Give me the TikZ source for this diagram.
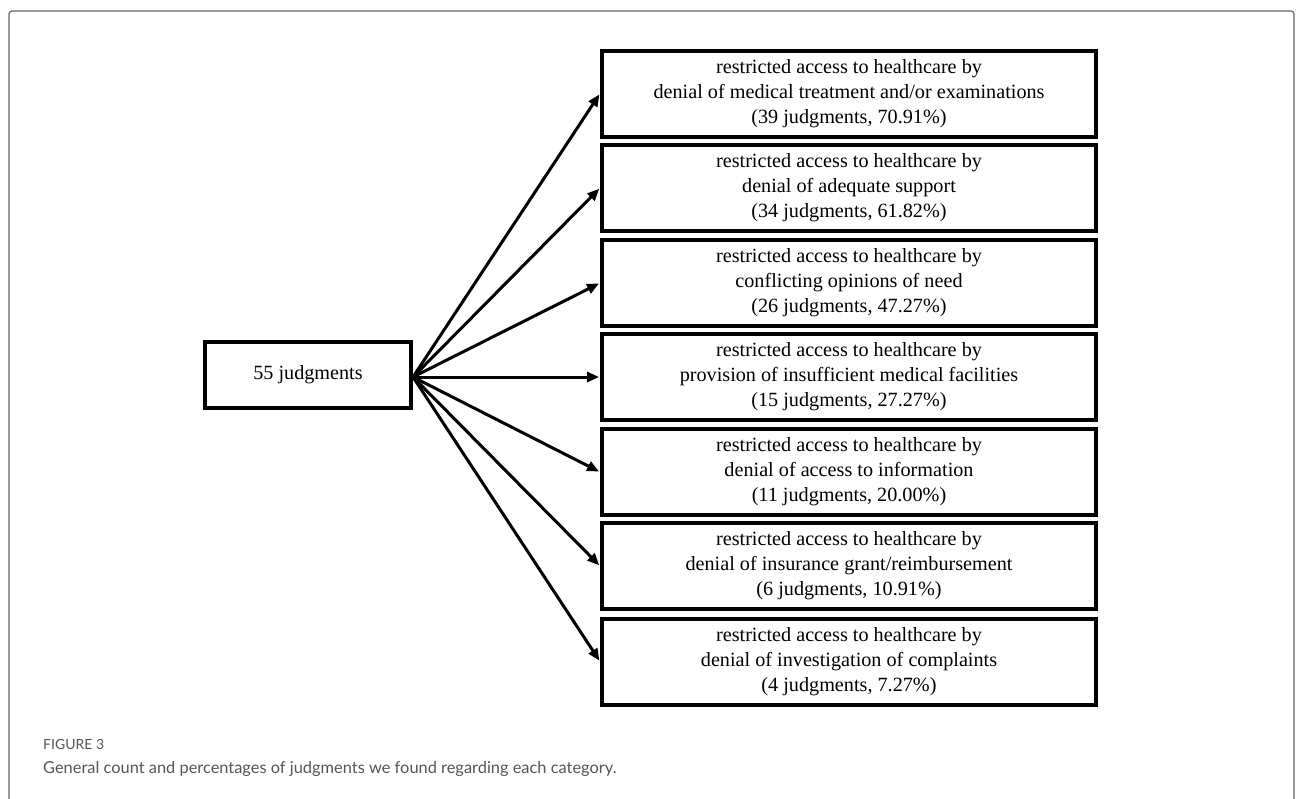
\documentclass[tikz,border=0pt]{standalone}
\usepackage{fontspec}
\setmainfont{Liberation Serif}
\newfontfamily\capfont{Lato}
\usetikzlibrary{arrows.meta}
\definecolor{framegray}{HTML}{666666}
\definecolor{capgray}{HTML}{555555}
\tikzset{
  catbox/.style={draw=black, line width=4pt, minimum width=494pt, minimum height=86pt,
    align=center, inner sep=0pt, font=\fontsize{20.2}{25}\selectfont},
  srcbox/.style={draw=black, line width=4pt, minimum width=206pt, minimum height=66pt,
    inner sep=0pt, font=\fontsize{20.2}{25}\selectfont},
  arr/.style={line width=3pt, -{Triangle[length=12pt,width=10pt]}, shorten >=1pt}
}
\begin{document}
\begin{tikzpicture}[x=1pt,y=-1pt]
\useasboundingbox (0,0) rectangle (1296,798);
\draw[framegray, line width=1.2pt, rounded corners=3pt] (9,805) -- (9,11) -- (1294,11) -- (1294,805);

\node[srcbox] (src) at (308,375) {55 judgments};
\coordinate (o) at (413,377);

\node[catbox] (c1) at (849,93.5) {restricted access to healthcare by\\denial of medical treatment and/or examinations\\(39 judgments, 70.91\%)};
\node[catbox] (c2) at (849,188) {restricted access to healthcare by\\denial of adequate support\\(34 judgments, 61.82\%)};
\node[catbox] (c3) at (849,283) {restricted access to healthcare by\\conflicting opinions of need\\(26 judgments, 47.27\%)};
\node[catbox] (c4) at (849,377) {restricted access to healthcare by\\provision of insufficient medical facilities\\(15 judgments, 27.27\%)};
\node[catbox] (c5) at (849,472) {restricted access to healthcare by\\denial of access to information\\(11 judgments, 20.00\%)};
\node[catbox] (c6) at (849,566) {restricted access to healthcare by\\denial of insurance grant/reimbursement\\(6 judgments, 10.91\%)};
\node[catbox] (c7) at (849,661.5) {restricted access to healthcare by\\denial of investigation of complaints\\(4 judgments, 7.27\%)};

\foreach \n in {c1,c2,c3,c4,c5,c6,c7}{
  \draw[arr] (o) -- (\n.west);
}

\node[anchor=base west, text=capgray, font=\capfont\fontsize{14}{16}\selectfont, inner sep=0pt] (fig) at (43,749) {FIGURE 3};
\node[anchor=base west, text=capgray, font=\capfont\fontsize{16.4}{20}\selectfont, inner sep=0pt] (cap) at (43,773) {General count and percentages of judgments we found regarding each category.};
\end{tikzpicture}
\end{document}
